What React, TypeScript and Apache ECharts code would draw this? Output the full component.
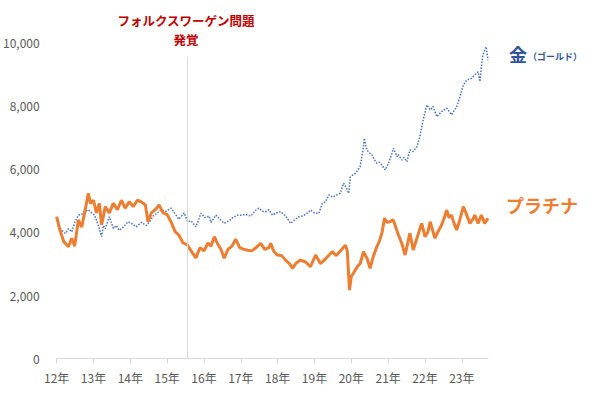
import React, { useEffect, useRef } from "react";
import * as echarts from "echarts";

// Decimal-year positions and prices (yen / gram)
const goldDates = [
  2012.0, 2012.08, 2012.14, 2012.19, 2012.24, 2012.32, 2012.41, 2012.49, 2012.59, 2012.68, 2012.76, 2012.86,
  2012.95, 2013.03, 2013.08, 2013.16, 2013.22, 2013.27, 2013.32, 2013.43, 2013.54, 2013.62, 2013.7, 2013.81,
  2013.94, 2014.05, 2014.16, 2014.3, 2014.43, 2014.51, 2014.62, 2014.73, 2014.84, 2014.97, 2015.11, 2015.24,
  2015.32, 2015.46, 2015.56, 2015.65, 2015.78, 2015.92, 2016.03, 2016.14, 2016.19, 2016.32, 2016.43, 2016.55,
  2016.68, 2016.78, 2016.91, 2017.0, 2017.14, 2017.27, 2017.41, 2017.49, 2017.59, 2017.68, 2017.76, 2017.86,
  2017.97, 2018.08, 2018.22, 2018.35, 2018.46, 2018.58, 2018.68, 2018.8, 2018.89, 2019.0, 2019.12, 2019.21,
  2019.3, 2019.39, 2019.49, 2019.61, 2019.7, 2019.79, 2019.86, 2019.93, 2019.97, 2020.11, 2020.24, 2020.33,
  2020.35, 2020.42, 2020.49, 2020.56, 2020.62, 2020.69, 2020.76, 2020.83, 2020.92, 2021.01, 2021.08, 2021.14,
  2021.24, 2021.27, 2021.37, 2021.43, 2021.51, 2021.59, 2021.68, 2021.78, 2021.86, 2021.95, 2022.05, 2022.14,
  2022.22, 2022.32, 2022.45, 2022.59, 2022.72, 2022.86, 2022.95, 2023.04, 2023.13, 2023.26, 2023.35, 2023.44,
  2023.49, 2023.53, 2023.57, 2023.66, 2023.71,
];
const goldValues = [
  4380, 4150, 4050, 4000, 3950, 4100, 4000, 4300, 4530, 4550, 4650, 4700,
  4600, 4530, 4380, 4100, 3850, 4200, 4100, 4480, 4110, 4200, 4050, 4150,
  4320, 4250, 4160, 4300, 4200, 4300, 4500, 4600, 4700, 4650, 4750, 4530,
  4400, 4600, 4320, 4350, 4160, 4590, 4450, 4500, 4290, 4530, 4400, 4270,
  4350, 4450, 4530, 4530, 4550, 4500, 4690, 4750, 4650, 4640, 4700, 4530,
  4600, 4640, 4500, 4270, 4380, 4480, 4500, 4590, 4690, 4600, 4590, 4900,
  4950, 5170, 5100, 5170, 5220, 5540, 5400, 5220, 5740, 5850, 6060, 6690,
  6960, 6590, 6500, 6430, 6300, 6170, 6200, 6110, 5960, 6170, 6400, 6640,
  6380, 6450, 6270, 6350, 6220, 6590, 6540, 6690, 7010, 7540, 8010, 7850,
  7960, 7640, 7800, 7910, 7700, 7960, 8270, 8640, 8800, 8850, 8960, 9060,
  8750, 9220, 9590, 9850, 9430,
];

const platinumDates = [
  2012.0, 2012.08, 2012.19, 2012.32, 2012.41, 2012.49, 2012.59, 2012.68, 2012.76, 2012.86, 2012.92, 2013.0,
  2013.08, 2013.16, 2013.22, 2013.32, 2013.43, 2013.54, 2013.65, 2013.76, 2013.86, 2013.97, 2014.08, 2014.19,
  2014.3, 2014.41, 2014.48, 2014.57, 2014.68, 2014.78, 2014.89, 2015.0, 2015.11, 2015.22, 2015.32, 2015.43,
  2015.54, 2015.65, 2015.78, 2015.89, 2016.0, 2016.11, 2016.19, 2016.28, 2016.38, 2016.46, 2016.55, 2016.65,
  2016.76, 2016.86, 2016.97, 2017.08, 2017.19, 2017.3, 2017.41, 2017.54, 2017.65, 2017.76, 2017.81, 2017.89,
  2017.99, 2018.11, 2018.22, 2018.32, 2018.4, 2018.49, 2018.62, 2018.76, 2018.89, 2019.03, 2019.16, 2019.3,
  2019.48, 2019.59, 2019.7, 2019.84, 2019.89, 2019.95, 2020.0, 2020.06, 2020.16, 2020.24, 2020.33, 2020.43,
  2020.51, 2020.59, 2020.69, 2020.76, 2020.83, 2020.9, 2020.97, 2021.05, 2021.14, 2021.22, 2021.28, 2021.38,
  2021.46, 2021.54, 2021.59, 2021.68, 2021.78, 2021.91, 2022.0, 2022.08, 2022.14, 2022.27, 2022.35, 2022.45,
  2022.51, 2022.59, 2022.65, 2022.72, 2022.78, 2022.86, 2022.95, 2023.04, 2023.11, 2023.22, 2023.3, 2023.35,
  2023.44, 2023.53, 2023.62, 2023.71,
];
const platinumValues = [
  4480, 4100, 3700, 3530, 3800, 3550, 4380, 4150, 4600, 5220, 4900, 5000,
  4600, 4900, 4220, 4800, 4600, 4900, 4700, 5000, 4750, 4950, 4800, 5000,
  4950, 4850, 4320, 4600, 4700, 4850, 4600, 4550, 4300, 4000, 3900, 3650,
  3600, 3400, 3180, 3500, 3400, 3650, 3550, 3850, 3600, 3450, 3170, 3450,
  3550, 3770, 3500, 3450, 3420, 3400, 3500, 3640, 3450, 3500, 3640, 3400,
  3270, 3250, 3100, 3000, 2850, 3000, 3110, 3050, 2900, 3270, 3000, 3150,
  3375, 3250, 3400, 3580, 3400, 2160, 2600, 2700, 2900, 3000, 3375, 3150,
  2850, 3200, 3530, 3700, 3960, 4430, 4300, 4320, 4380, 4100, 3900, 3600,
  3270, 3700, 3960, 3430, 3800, 4270, 3850, 4000, 4320, 3800, 4000, 4220,
  4400, 4690, 4450, 4530, 4300, 4060, 4400, 4800, 4600, 4270, 4400, 4530,
  4270, 4530, 4270, 4430,
];

const yearTicks = [2012, 2013, 2014, 2015, 2016, 2017, 2018, 2019, 2020, 2021, 2022, 2023];
const eventDate = 2015.54;
const eventTop = 9530;

const FONT = "'Noto Sans CJK JP', 'Noto Sans', sans-serif";

export default function App() {
  const ref = useRef<HTMLDivElement>(null);
  useEffect(() => {
    document.body.style.margin = "0";
    const chart = echarts.init(ref.current!, null, { renderer: "svg" });
    const gold = goldDates.map((d, i) => [d, goldValues[i]]);
    const plat = platinumDates.map((d, i) => [d, platinumValues[i]]);
    chart.setOption({
      animation: false,
      backgroundColor: "#ffffff",
      grid: { left: 55, right: 112, top: 42, bottom: 36.5, containLabel: false },
      xAxis: {
        type: "value",
        min: yearTicks[0],
        max: 2023.71,
        interval: 1,
        axisLine: { show: true, lineStyle: { color: "#d9d9d9", width: 1 } },
        axisTick: { show: true, length: 5, lineStyle: { color: "#d9d9d9" } },
        splitLine: { show: false },
        axisLabel: {
          color: "#595959",
          fontSize: 12,
          fontFamily: FONT,
          margin: 13,
          showMaxLabel: false,
          formatter: (v: number) =>
            yearTicks.includes(Math.round(v)) && Math.abs(v - Math.round(v)) < 1e-6
              ? `${String(Math.round(v)).slice(2)}年`
              : "",
        },
      },
      yAxis: {
        type: "value",
        min: 0,
        max: 10000,
        interval: 2000,
        axisLine: { show: false },
        axisTick: { show: false },
        splitLine: { show: false },
        axisLabel: {
          color: "#595959",
          fontSize: 12,
          fontFamily: FONT,
          margin: 17,
          formatter: (v: number) => v.toLocaleString("en-US"),
        },
      },
      series: [
        {
          name: "金",
          type: "line",
          data: gold,
          showSymbol: false,
          symbol: "none",
          lineStyle: { color: "#4472c4", width: 1.5, type: [1.5, 1.5] },
          z: 2,
          markLine: {
            silent: true,
            symbol: ["none", "none"],
            label: { show: false },
            lineStyle: { color: "#d9d9d9", width: 1, type: "solid" },
            data: [[{ coord: [eventDate, 0] }, { coord: [eventDate, eventTop] }]],
          },
        },
        {
          name: "プラチナ",
          type: "line",
          data: plat,
          showSymbol: false,
          symbol: "none",
          lineStyle: { color: "#ed7d31", width: 3 },
          z: 3,
        },
      ],
      graphic: [
        {
          type: "text",
          x: 186,
          y: 20.5,
          style: {
            text: "フォルクスワーゲン問題",
            fill: "#c00000",
            font: `bold 12.5px ${FONT}`,
            textAlign: "center",
            textVerticalAlign: "middle",
          },
        },
        {
          type: "text",
          x: 186,
          y: 39,
          style: {
            text: "発覚",
            fill: "#c00000",
            font: `bold 12.5px ${FONT}`,
            textAlign: "center",
            textVerticalAlign: "middle",
          },
        },
        {
          type: "text",
          x: 509,
          y: 54,
          style: {
            text: "金",
            fill: "#2f5597",
            font: `bold 18px ${FONT}`,
            textAlign: "left",
            textVerticalAlign: "middle",
          },
        },
        {
          type: "text",
          x: 528,
          y: 56,
          style: {
            text: "（ゴールド）",
            fill: "#2f5597",
            font: `bold 9px ${FONT}`,
            textAlign: "left",
            textVerticalAlign: "middle",
          },
        },
        {
          type: "text",
          x: 506,
          y: 205,
          style: {
            text: "プラチナ",
            fill: "#ed7d31",
            font: `bold 18px ${FONT}`,
            textAlign: "left",
            textVerticalAlign: "middle",
          },
        },
      ],
    });
    return () => chart.dispose();
  }, []);
  return <div ref={ref} style={{ width: 600, height: 395 }} />;
}
